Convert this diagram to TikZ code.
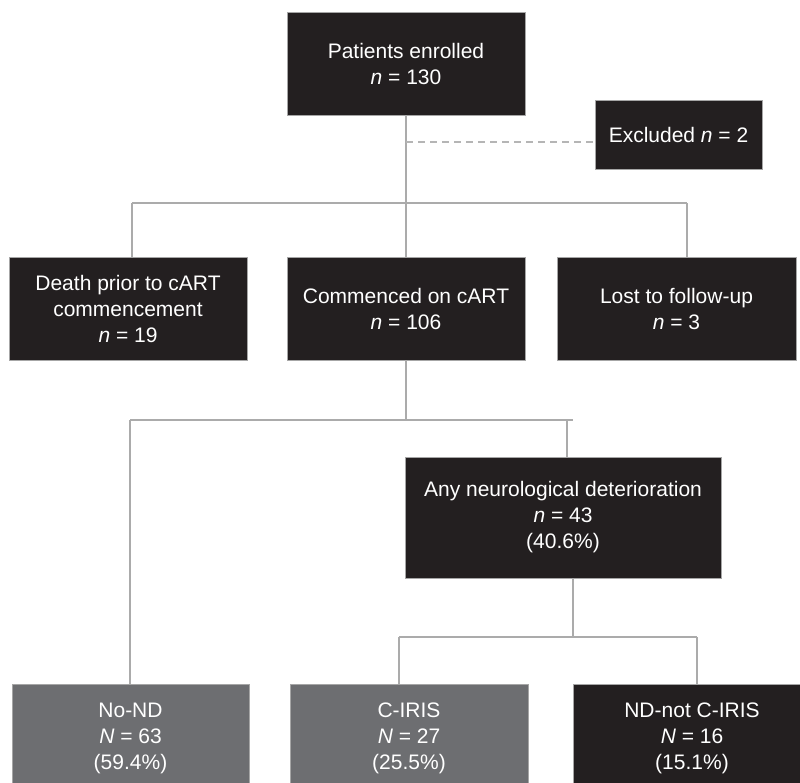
\documentclass[tikz,border=0pt]{standalone}
\usepackage{fontspec}
\setmainfont{Liberation Sans}
\definecolor{boxdark}{HTML}{231F20}
\definecolor{boxgray}{HTML}{6D6E71}
\definecolor{linegray}{HTML}{ABABAB}
\definecolor{dashgray}{HTML}{B5B5B5}
\begin{document}
\begin{tikzpicture}[x=1pt,y=-1pt,
  box/.style={rectangle, fill=boxdark, draw=gray!70, line width=0.4pt, text=white, align=center,
    inner sep=0pt, font=\fontsize{21}{26}\selectfont},
  graybox/.style={box, fill=boxgray},
  conn/.style={draw=linegray, line width=1.4pt},
  dconn/.style={draw=dashgray, line width=1.4pt, dash pattern=on 7pt off 5pt}]
\clip (0,0) rectangle (800,782);
\fill[white] (0,0) rectangle (800,782);

\node[box, minimum width=238pt, minimum height=103pt] (top) at (406,63.5) {Patients enrolled\\\textit{n} = 130};
\node[box, minimum width=167pt, minimum height=69pt] (excl) at (678.5,134.5) {Excluded \textit{n} = 2};
\node[box, minimum width=238pt, minimum height=103pt] (death) at (128,308.5) {Death prior to cART\\commencement\\\textit{n} = 19};
\node[box, minimum width=238pt, minimum height=103pt] (comm) at (406,308.5) {Commenced on cART\\\textit{n} = 106};
\node[box, minimum width=239pt, minimum height=103pt] (lost) at (676.5,308.5) {Lost to follow-up\\\textit{n} = 3};
\node[box, minimum width=316pt, minimum height=121pt] (anyd) at (563,517.5) {Any neurological deterioration\\\textit{n} = 43\\(40.6\%)};
\node[graybox, minimum width=237pt, minimum height=108pt] (nond) at (130.5,738) {No-ND\\\textit{N} = 63\\(59.4\%)};
\node[graybox, minimum width=238pt, minimum height=108pt] (ciris) at (409,738) {C-IRIS\\\textit{N} = 27\\(25.5\%)};
\node[box, minimum width=238pt, minimum height=108pt] (ndnot) at (692,738) {ND-not C-IRIS\\\textit{N} = 16\\(15.1\%)};

% top to commenced
\draw[conn] (top.south) -- (comm.north);
\coordinate (d1) at (406,142);
\draw[dconn] (d1) -- (d1 -| excl.west);
\coordinate (b1l) at (132,203);
\coordinate (b1r) at (687,203);
\draw[conn] (b1l) -- (b1r);
\draw[conn] (b1l) -- (b1l |- death.north);
\draw[conn] (b1r) -- (b1r |- lost.north);

% commenced to second split
\coordinate (b2m) at (406,420);
\coordinate (b2l) at (130,420);
\coordinate (b2r) at (573,420);
\coordinate (b2a) at (567,420);
\draw[conn] (comm.south) -- (b2m);
\draw[conn] (b2l) -- (b2r);
\draw[conn] (b2l) -- (b2l |- nond.north);
\draw[conn] (b2a) -- (b2a |- anyd.north);

% any to third split
\coordinate (b3m) at (573,637);
\coordinate (b3l) at (399,637);
\coordinate (b3r) at (697,637);
\draw[conn] (b3m |- anyd.south) -- (b3m);
\draw[conn] (b3l) -- (b3r);
\draw[conn] (b3l) -- (b3l |- ciris.north);
\draw[conn] (b3r) -- (b3r |- ndnot.north);
\end{tikzpicture}
\end{document}
